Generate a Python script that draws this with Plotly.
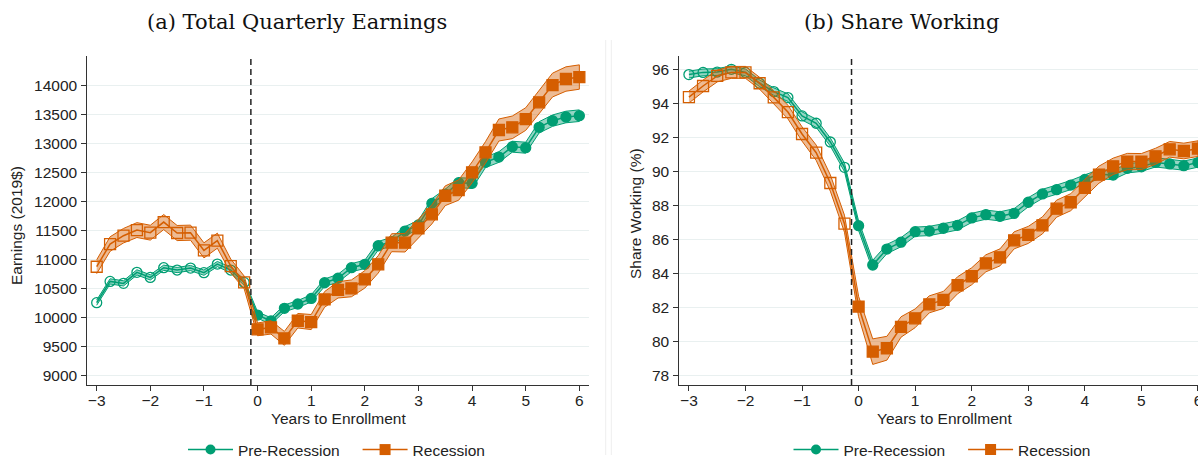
import plotly.graph_objects as go

# ---------------- data ----------------
years = [-3, -2.75, -2.5, -2.25, -2, -1.75, -1.5, -1.25, -1, -0.75, -0.5, -0.25,
         0, 0.25, 0.5, 0.75, 1, 1.25, 1.5, 1.75, 2, 2.25, 2.5, 2.75,
         3, 3.25, 3.5, 3.75, 4, 4.25, 4.5, 4.75, 5, 5.25, 5.5, 5.75, 6]

earn_pre = [10260, 10626, 10592, 10782, 10695, 10862, 10822, 10856, 10776, 10925, 10822, 10609,
            10046, 9943, 10161, 10236, 10333, 10603, 10680, 10862, 10920, 11241, 11310, 11494,
            11598, 11971, 12132, 12328, 12316, 12678, 12770, 12948, 12931, 13282, 13397, 13460, 13483]
earn_pre_ci = [45, 45, 45, 45, 45, 45, 45, 45, 45, 45, 48, 50,
               55, 55, 58, 60, 62, 65, 68, 70, 72, 74, 76, 78,
               80, 82, 84, 86, 88, 90, 92, 94, 95, 97, 98, 100, 100]

earn_rec = [10879, 11270, 11414, 11511, 11466, 11649, 11460, 11466, 11161, 11328, 10891, 10609,
            9799, 9833, 9644, 9948, 9925, 10316, 10480, 10506, 10661, 10920, 11293, 11293,
            11540, 11782, 12103, 12201, 12506, 12851, 13236, 13282, 13425, 13713, 14011, 14115, 14149]
earn_rec_ci = [120, 125, 125, 128, 128, 130, 130, 130, 130, 130, 120, 110,
               110, 115, 120, 125, 130, 135, 140, 145, 150, 150, 155, 160,
               160, 165, 170, 175, 180, 185, 190, 195, 195, 200, 205, 210, 210]

work_pre = [95.69, 95.82, 95.84, 96.00, 95.82, 95.18, 94.69, 94.34, 93.26, 92.83, 91.73, 90.24,
            86.81, 84.50, 85.44, 85.84, 86.46, 86.50, 86.66, 86.83, 87.27, 87.46, 87.36, 87.54,
            88.19, 88.68, 88.93, 89.20, 89.53, 89.83, 89.79, 90.18, 90.27, 90.53, 90.44, 90.34, 90.52]
work_pre_ci = [0.2, 0.2, 0.2, 0.2, 0.2, 0.2, 0.22, 0.22, 0.24, 0.24, 0.24, 0.25,
               0.28, 0.28, 0.27, 0.27, 0.27, 0.27, 0.27, 0.27, 0.27, 0.27, 0.27, 0.27,
               0.27, 0.27, 0.27, 0.27, 0.27, 0.27, 0.27, 0.27, 0.27, 0.27, 0.27, 0.27, 0.27]

work_rec = [94.37, 95.02, 95.61, 95.82, 95.82, 95.18, 94.35, 93.49, 92.20, 91.10, 89.32, 86.93,
            82.06, 79.41, 79.61, 80.86, 81.37, 82.19, 82.45, 83.31, 83.84, 84.60, 84.95, 85.95,
            86.27, 86.83, 87.81, 88.19, 89.03, 89.81, 90.30, 90.58, 90.58, 90.89, 91.30, 91.20, 91.34]
work_rec_ci = [0.35, 0.35, 0.35, 0.35, 0.35, 0.35, 0.38, 0.4, 0.42, 0.45, 0.48, 0.5,
               0.6, 0.75, 0.7, 0.6, 0.55, 0.5, 0.5, 0.5, 0.5, 0.5, 0.5, 0.5,
               0.5, 0.5, 0.5, 0.5, 0.5, 0.5, 0.48, 0.48, 0.47, 0.47, 0.46, 0.46, 0.46]

earn_ticks = [9000, 9500, 10000, 10500, 11000, 11500, 12000, 12500, 13000, 13500, 14000]
work_ticks = [78, 80, 82, 84, 86, 88, 90, 92, 94, 96]
x_ticks = [-3, -2, -1, 0, 1, 2, 3, 4, 5, 6]
enroll_line = -0.125

# ---------------- styling ----------------
W, H = 1198, 459
GREEN = "rgb(0,158,115)"
ORANGE = "rgb(213,94,0)"
GREEN_FILL = "rgba(0,158,115,0.42)"
ORANGE_FILL = "rgba(213,94,0,0.42)"
SANS = "Liberation Sans, Arial, sans-serif"
SERIF = "DejaVu Serif, serif"
FS = 15.5


def px_x(p):
    return p / W


def px_y(p):
    return 1 - p / H


fig = go.Figure()


def add_series(xa, ya, vals, ci, color, fill, sym):
    lo = [v - c for v, c in zip(vals, ci)]
    hi = [v + c for v, c in zip(vals, ci)]
    fig.add_trace(go.Scatter(
        x=list(years) + list(years[::-1]), y=hi + lo[::-1],
        fill="toself", fillcolor=fill, mode="lines",
        line=dict(color=color, width=1), xaxis=xa, yaxis=ya,
        showlegend=False, hoverinfo="skip"))
    symbols = [(sym + "-open") if x < 0 else sym for x in years]
    fig.add_trace(go.Scatter(
        x=years, y=vals, mode="lines+markers",
        line=dict(color=color, width=1.5),
        marker=dict(symbol=symbols, size=10 if sym == "circle" else 11, color=color,
                    line=dict(color=color, width=1.3)),
        xaxis=xa, yaxis=ya, showlegend=False))


add_series("x", "y", earn_pre, earn_pre_ci, GREEN, GREEN_FILL, "circle")
add_series("x", "y", earn_rec, earn_rec_ci, ORANGE, ORANGE_FILL, "square")
add_series("x2", "y2", work_pre, work_pre_ci, GREEN, GREEN_FILL, "circle")
add_series("x2", "y2", work_rec, work_rec_ci, ORANGE, ORANGE_FILL, "square")

# legend entries
for lg, xa, ya in [("legend", "x", "y"), ("legend2", "x2", "y2")]:
    fig.add_trace(go.Scatter(x=[None], y=[None], mode="lines+markers", name="Pre-Recession   ",
                             line=dict(color=GREEN, width=1.5),
                             marker=dict(symbol="circle", size=10, color=GREEN),
                             xaxis=xa, yaxis=ya, legend=lg))
    fig.add_trace(go.Scatter(x=[None], y=[None], mode="lines+markers", name="Recession",
                             line=dict(color=ORANGE, width=1.5),
                             marker=dict(symbol="square", size=11, color=ORANGE),
                             xaxis=xa, yaxis=ya, legend=lg))

axis_common = dict(showline=True, linecolor="#333333", linewidth=1, ticks="outside",
                   ticklen=5, tickcolor="#333333", zeroline=False,
                   ticklabeloverflow="allow",
                   tickfont=dict(family=SANS, size=FS, color="#222222"))
ydom = [px_y(385), px_y(55.7)]

legend_common = dict(orientation="h", xanchor="center", y=px_y(450), yanchor="middle",
                     font=dict(family=SANS, size=FS, color="#222222"),
                     bgcolor="rgba(0,0,0,0)", itemwidth=45)

fig.update_layout(
    width=W, height=H, margin=dict(l=0, r=0, t=0, b=0, autoexpand=False),
    paper_bgcolor="white", plot_bgcolor="white",
    xaxis=dict(domain=[px_x(87.3), px_x(589)], range=[-3.175, 6.18], tickvals=x_ticks,
               showgrid=False, anchor="y", ticklabelstandoff=-4, **axis_common),
    yaxis=dict(domain=ydom, range=[8840, 14517], tickvals=earn_ticks, tickformat="d",
               showgrid=True, gridcolor="#e9f0f0", gridwidth=1, anchor="x",
               ticklabelstandoff=1, **axis_common),
    xaxis2=dict(domain=[px_x(679.3), 1.0], range=[-3.17, 6.0005], tickvals=x_ticks,
                showgrid=False, anchor="y2", ticklabelstandoff=-4, **axis_common),
    yaxis2=dict(domain=ydom, range=[77.45, 96.8], tickvals=work_ticks, showgrid=True,
                gridcolor="#e9f0f0", gridwidth=1, anchor="x2", ticklabelstandoff=1,
                **axis_common),
    legend=dict(x=px_x(336.5), **legend_common),
    legend2=dict(x=px_x(942), **legend_common),
    showlegend=True,
)

shapes = []
for xr, yr in [("x", "y domain"), ("x2", "y2 domain")]:
    shapes.append(dict(type="line", xref=xr, yref=yr, x0=enroll_line, x1=enroll_line, y0=0, y1=1,
                       line=dict(color="#222222", width=1.5, dash="6px,4px"), layer="above"))
for sx in [605.7, 611.3]:
    shapes.append(dict(type="line", xref="paper", yref="paper", x0=px_x(sx), x1=px_x(sx),
                       y0=px_y(455), y1=px_y(40), line=dict(color="#eeeeee", width=1)))
fig.update_layout(shapes=shapes)

ann = []
ann.append(dict(text="(a) Total Quarterly Earnings", x=px_x(297), y=px_y(22), xref="paper", yref="paper",
                showarrow=False, xanchor="center", yanchor="middle",
                font=dict(family=SERIF, size=21, color="#111111")))
ann.append(dict(text="(b) Share Working", x=px_x(901), y=px_y(22), xref="paper", yref="paper",
                showarrow=False, xanchor="center", yanchor="middle",
                font=dict(family=SERIF, size=21, color="#111111")))
ann.append(dict(text="Years to Enrollment", x=px_x(338), y=px_y(418), xref="paper", yref="paper",
                showarrow=False, xanchor="center", yanchor="middle",
                font=dict(family=SANS, size=FS, color="#222222")))
ann.append(dict(text="Years to Enrollment", x=px_x(944), y=px_y(418), xref="paper", yref="paper",
                showarrow=False, xanchor="center", yanchor="middle",
                font=dict(family=SANS, size=FS, color="#222222")))
ann.append(dict(text="Earnings (2019$)", x=px_x(17), y=px_y(226), xref="paper", yref="paper",
                showarrow=False, xanchor="center", yanchor="middle", textangle=-90,
                font=dict(family=SANS, size=FS, color="#222222")))
ann.append(dict(text="Share Working (%)", x=px_x(635), y=px_y(214), xref="paper", yref="paper",
                showarrow=False, xanchor="center", yanchor="middle", textangle=-90,
                font=dict(family=SANS, size=FS, color="#222222")))
fig.update_layout(annotations=ann)

fig.write_html("out.html")
